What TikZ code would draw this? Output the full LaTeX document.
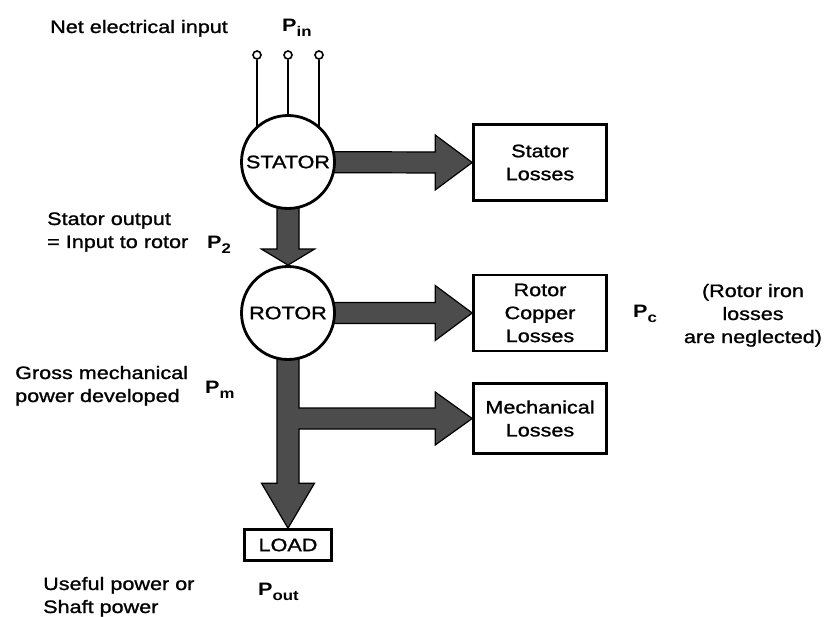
\documentclass[tikz,border=0pt]{standalone}
\usepackage{fontspec}
\setmainfont{Liberation Sans}[FakeStretch=1.2, UprightFeatures={FakeBold=1.2}]
\usetikzlibrary{calc,backgrounds}
\newcommand\Plab[1]{\textbf{P}\raisebox{-5pt}{\fontsize{14}{14}\selectfont\textbf{#1}}}
\begin{document}
\begin{tikzpicture}[x=1pt,y=-1pt,
  every node/.style={font=\fontsize{18}{23}\selectfont},
  machine/.style={circle, draw, line width=2.8pt, fill=white, minimum size=93pt, inner sep=0pt},
  lossbox/.style={draw, line width=2.6pt, minimum width=133pt, minimum height=76pt, align=center, inner sep=0pt},
  loadbox/.style={draw, line width=2.6pt, minimum width=87pt, minimum height=31pt, inner sep=0pt},
  term/.style={circle, draw, line width=1.6pt, fill=white, minimum size=8pt, inner sep=0pt},
  wire/.style={line width=1.8pt},
  fat/.style={draw=black, line width=1.2pt, fill=black!70, line join=miter},
  lbl/.style={anchor=base west, align=left, inner sep=0pt},
  plbl/.style={anchor=base west, inner sep=0pt}]
\useasboundingbox (0,0) rectangle (824,617);

% machines and boxes
\node[machine] (stator) at (288,162) {STATOR};
\node[machine] (rotor) at (288,313) {ROTOR};
\node[lossbox] (sloss) at (540,162.5) {Stator\\Losses};
\node[lossbox] (rloss) at (540,313) {Rotor\\Copper\\Losses};
\node[lossbox, minimum height=70pt] (mloss) at (540,418.5) {Mechanical\\Losses};
\node[loadbox] (load) at (288,545) {LOAD};

% terminals
\node[term] (t1) at (257,55) {};
\node[term] (t2) at (288,55) {};
\node[term] (t3) at (319,55) {};

\begin{pgfonlayer}{background}
  \fill[white] (0,0) rectangle (824,617);
  \draw[wire] (t1.south) -- (t1.south |- stator.center);
  \draw[wire] (t2.south) -- (t2.south |- stator.center);
  \draw[wire] (t3.south) -- (t3.south |- stator.center);
  % stator -> stator losses
  \draw[fat] ($(stator.center)+(0,-10.5)$) -- ($(sloss.west)+(-37,-10.5)$) -- ($(sloss.west)+(-37,-27.5)$)
    -- (sloss.west) -- ($(sloss.west)+(-37,27.5)$) -- ($(sloss.west)+(-37,10.5)$) -- ($(stator.center)+(0,10.5)$) -- cycle;
  % stator -> rotor
  \draw[fat] ($(stator.center)+(-11,0)$) -- ($(rotor.north)+(-11,-16)$) -- ($(rotor.north)+(-26.5,-16)$)
    -- (rotor.north) -- ($(rotor.north)+(26.5,-16)$) -- ($(rotor.north)+(11,-16)$) -- ($(stator.center)+(11,0)$) -- cycle;
  % rotor -> rotor copper losses
  \draw[fat] ($(rotor.center)+(0,-10.5)$) -- ($(rloss.west)+(-37,-10.5)$) -- ($(rloss.west)+(-37,-27.5)$)
    -- (rloss.west) -- ($(rloss.west)+(-37,27.5)$) -- ($(rloss.west)+(-37,10.5)$) -- ($(rotor.center)+(0,10.5)$) -- cycle;
  % rotor -> load, with branch to mechanical losses
  \coordinate (vr) at ($(rotor.center)+(11,0)$);
  \coordinate (mt) at ($(mloss.west)+(0,-10.5)$);
  \coordinate (mb) at ($(mloss.west)+(0,10.5)$);
  \draw[fat] ($(rotor.center)+(-11,0)$) -- ($(load.north)+(-11,-45)$) -- ($(load.north)+(-26.5,-45)$)
    -- (load.north) -- ($(load.north)+(26.5,-45)$) -- ($(load.north)+(11,-45)$)
    -- (vr |- mb) -- ($(mb)+(-37,0)$) -- ($(mloss.west)+(-37,26.5)$) -- (mloss.west)
    -- ($(mloss.west)+(-37,-26.5)$) -- ($(mt)+(-37,0)$) -- (vr |- mt) -- (vr) -- cycle;
\end{pgfonlayer}

% labels
\node[lbl] (netin) at (50,33) {Net electrical input};
\node[plbl] (pin) at (282,32) {\Plab{in}};
\node[lbl] (statout) at (47,248) {Stator output\\= Input to rotor};
\node[plbl] (p2) at (207,249) {\Plab{2}};
\node[lbl] (gross) at (15,402) {Gross mechanical\\power developed};
\node[plbl] (pm) at (205,393) {\Plab{m}};
\node[lbl] (useful) at (43,613) {Useful power or\\Shaft power};
\node[plbl] (pout) at (258,595) {\Plab{out}};
\node[plbl] (pc) at (633,318) {\Plab{c}};
\node[anchor=base, align=center, inner sep=0pt] (iron) at (753,343) {(Rotor iron\\losses\\are neglected)};
\end{tikzpicture}
\end{document}
